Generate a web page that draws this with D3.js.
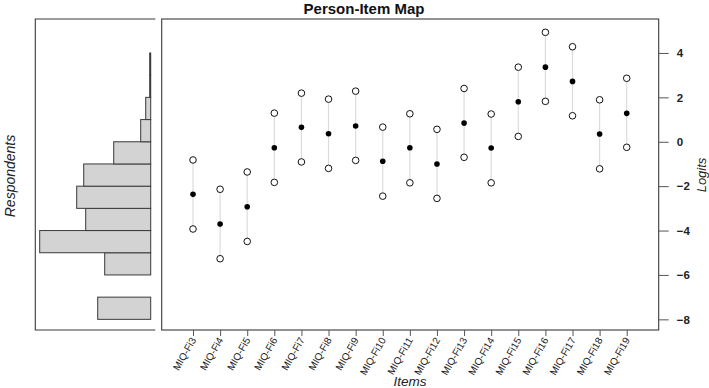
<!DOCTYPE html>
<html>
<head>
<meta charset="utf-8">
<script src="https://cdn.jsdelivr.net/npm/d3@7"></script>
<style>
  body { margin: 0; background: #fff; }
  svg { display: block; font-family: "Liberation Sans", Arial, sans-serif; }
</style>
</head>
<body>
<svg id="chart"></svg>
<script>
// item labels and logit estimates
const items = ["MIQ-Fi3","MIQ-Fi4","MIQ-Fi5","MIQ-Fi6","MIQ-Fi7","MIQ-Fi8","MIQ-Fi9","MIQ-Fi10",
  "MIQ-Fi11","MIQ-Fi12","MIQ-Fi13","MIQ-Fi14","MIQ-Fi15","MIQ-Fi16","MIQ-Fi17","MIQ-Fi18","MIQ-Fi19"];
const thresholdMid = [-2.37,-3.71,-2.93,-0.27,0.65,0.36,0.71,-0.88,-0.27,-1.0,0.84,-0.28,1.8,3.36,2.72,0.35,1.28];
const thresholdLow = [-3.93,-5.27,-4.49,-1.83,-0.91,-1.2,-0.84,-2.45,-1.85,-2.55,-0.7,-1.85,0.24,1.82,1.17,-1.22,-0.25];
const thresholdHigh = [-0.82,-2.14,-1.36,1.29,2.19,1.92,2.28,0.66,1.26,0.56,2.4,1.25,3.36,4.93,4.28,1.89,2.86];

// respondent histogram: bin lower edges (logits) and counts
const binStart = [-8,-7,-6,-5,-4,-3,-2,-1,0,1,2,3];
const binCount = [53,0,46,111,65,74,67,37,10,5,1,1];
const yTicks = [4,2,0,-2,-4,-6,-8];

const width = 709, height = 388;
const svg = d3.select('#chart').attr('width', width).attr('height', height);

const plotTop = 19, plotBottom = 330;
const y = d3.scaleLinear().domain([-8.48, 5.53]).range([plotBottom, plotTop]);
const x = d3.scaleLinear().domain([-0.155, 18.18]).range([161.7, 658.7]);
const cnt = d3.scaleLinear().domain([0, 111]).range([150.7, 39.7]);

const ink = '#3a3a3a';

// left panel (persons)
const left = svg.append('g');
left.append('path')
  .attr('d', `M155.3,${plotTop}H35.3V${plotBottom}H155.3`)
  .attr('fill', 'none').attr('stroke', ink).attr('stroke-width', 1.1);
left.selectAll('rect')
  .data(binStart.map((b, i) => ({b, n: binCount[i]})).filter(d => d.n > 0))
  .join('rect')
    .attr('x', d => cnt(d.n))
    .attr('y', d => y(d.b + 1))
    .attr('width', d => cnt(0) - cnt(d.n))
    .attr('height', d => y(d.b) - y(d.b + 1))
    .attr('fill', '#d3d3d3')
    .attr('stroke', ink)
    .attr('stroke-width', 1);
left.append('text')
  .attr('transform', `translate(15,176) rotate(-90)`)
  .attr('text-anchor', 'middle')
  .style('font-size', '14px').style('font-style', 'italic').attr('fill', '#222')
  .text('Respondents');

// right panel (items)
const main = svg.append('g');
main.append('rect')
  .attr('x', 161.7).attr('y', plotTop).attr('width', 658.7 - 161.7).attr('height', plotBottom - plotTop)
  .attr('fill', 'none').attr('stroke', ink).attr('stroke-width', 1.1);

const pts = items.map((name, i) => ({name, i: i + 1, lo: thresholdLow[i], mid: thresholdMid[i], hi: thresholdHigh[i]}));

main.selectAll('.seg').data(pts).join('line')
  .attr('class', 'seg')
  .attr('x1', d => x(d.i)).attr('x2', d => x(d.i))
  .attr('y1', d => y(d.lo)).attr('y2', d => y(d.hi))
  .attr('stroke', '#dcdcdc').attr('stroke-width', 1.2);

main.selectAll('.open').data(pts.flatMap(d => [{i: d.i, v: d.lo}, {i: d.i, v: d.hi}])).join('circle')
  .attr('class', 'open')
  .attr('cx', d => x(d.i)).attr('cy', d => y(d.v)).attr('r', 3.3)
  .attr('fill', '#fff').attr('stroke', '#111').attr('stroke-width', 1);

main.selectAll('.mid').data(pts).join('circle')
  .attr('class', 'mid')
  .attr('cx', d => x(d.i)).attr('cy', d => y(d.mid)).attr('r', 2.8)
  .attr('fill', '#000');

// right logit axis
const yAxis = d3.axisRight(y).tickValues(yTicks).tickSize(10).tickPadding(8);
const ya = main.append('g').attr('transform', 'translate(658.7,0)').call(yAxis);
ya.select('.domain').remove();
ya.selectAll('line').attr('stroke', '#555');
ya.selectAll('text').attr('fill', '#222').style('font-size', '11.5px').style('font-weight', 'bold')
  .style('font-family', '"Liberation Sans", Arial, sans-serif');

main.append('text')
  .attr('transform', 'translate(706,175) rotate(-90)')
  .attr('text-anchor', 'middle')
  .style('font-size', '13px').style('font-style', 'italic').attr('fill', '#222')
  .text('Logits');

// item axis
const xAxis = d3.axisBottom(x).tickValues(pts.map(d => d.i)).tickFormat(i => items[i - 1]).tickSize(6).tickPadding(0);
const xa = main.append('g').attr('transform', `translate(0,${plotBottom})`).call(xAxis);
xa.select('.domain').remove();
xa.selectAll('line').attr('stroke', '#555');
xa.selectAll('text')
  .attr('y', 0).attr('dy', 0)
  .attr('transform', 'translate(3,10) rotate(-60)')
  .attr('text-anchor', 'end')
  .attr('fill', '#222')
  .style('font-size', '10px')
  .style('font-family', '"Liberation Sans", Arial, sans-serif');

main.append('text')
  .attr('x', 410).attr('y', 386)
  .attr('text-anchor', 'middle')
  .style('font-size', '13.5px').style('font-style', 'italic').attr('fill', '#222')
  .text('Items');

svg.append('text')
  .attr('x', 364).attr('y', 14)
  .attr('text-anchor', 'middle')
  .style('font-size', '15px').style('font-weight', 'bold').attr('fill', '#111')
  .text('Person-Item Map');
</script>
</body>
</html>
